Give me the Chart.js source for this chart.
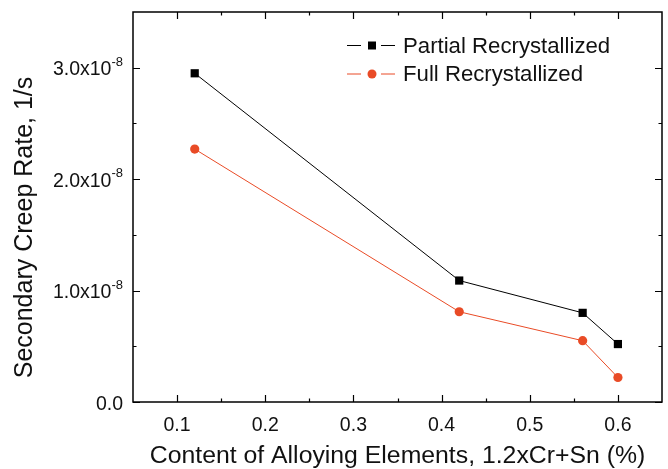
<!DOCTYPE html>
<html>
<head>
<meta charset="utf-8">
<script src="https://cdn.jsdelivr.net/npm/chart.js@4/dist/chart.umd.min.js"></script>
<style>
  html, body { margin: 0; padding: 0; background: #fff; }
  canvas { display: block; }
</style>
</head>
<body>
<canvas id="chart" width="668" height="469"></canvas>
<script>
const alloyContent = [0.12, 0.42, 0.56, 0.60]
const partialRate = [2.95e-8, 1.09e-8, 0.80e-8, 0.52e-8]
const fullRate = [2.27e-8, 0.81e-8, 0.55e-8, 0.22e-8]

const seriesNames = ['Partial Recrystallized', 'Full Recrystallized']
const seriesColors = ['#000000', '#E94B26']

const xTicks = [0.1, 0.2, 0.3, 0.4, 0.5, 0.6]
const xMinorTicks = [0.15, 0.25, 0.35, 0.45, 0.55]
const yTicks = [0, 1e-8, 2e-8, 3e-8]
const yMinorTicks = [0.5e-8, 1.5e-8, 2.5e-8]
const yTickBase = ['0.0', '1.0x10', '2.0x10', '3.0x10']
const yTickExp = ['', '-8', '-8', '-8']

const xTitle = 'Content of Alloying Elements, 1.2xCr+Sn (%)'
const yTitle = 'Secondary Creep Rate, 1/s'

const FONT = "'Liberation Sans', Arial, sans-serif"
const INK = '#111'

const toPoints = (ys) => alloyContent.map((x, i) => ({ x, y: ys[i] }))

// frame, inward ticks, y labels with superscript, y title, legend
const decorations = {
    id: 'decorations',
    afterDraw(chart) {
        const { ctx, chartArea: a, scales: { x, y } } = chart
        ctx.save()
        ctx.strokeStyle = '#000'
        ctx.lineWidth = 1.5
        ctx.strokeRect(a.left, a.top, a.right - a.left, a.bottom - a.top)

        ctx.lineWidth = 1.2
        ctx.beginPath()
        const xt = (v, len) => {
            const px = Math.round(x.getPixelForValue(v)) + 0.5
            ctx.moveTo(px, a.bottom); ctx.lineTo(px, a.bottom - len)
            ctx.moveTo(px, a.top); ctx.lineTo(px, a.top + len)
        }
        const yt = (v, len) => {
            const py = Math.round(y.getPixelForValue(v)) + 0.5
            ctx.moveTo(a.left, py); ctx.lineTo(a.left + len, py)
            ctx.moveTo(a.right, py); ctx.lineTo(a.right - len, py)
        }
        xTicks.forEach(v => xt(v, 7))
        xMinorTicks.forEach(v => xt(v, 3.5))
        yTicks.forEach(v => yt(v, 7))
        yMinorTicks.forEach(v => yt(v, 3.5))
        ctx.stroke()

        // y tick labels
        ctx.fillStyle = INK
        ctx.textBaseline = 'alphabetic'
        ctx.textAlign = 'right'
        yTicks.forEach((v, i) => {
            const py = y.getPixelForValue(v)
            const right = a.left - 10
            ctx.font = '13px ' + FONT
            const ew = yTickExp[i] ? ctx.measureText(yTickExp[i]).width : 0
            if (yTickExp[i]) ctx.fillText(yTickExp[i], right, py - 2)
            ctx.font = '19.5px ' + FONT
            ctx.fillText(yTickBase[i], right - ew, py + 7.5)
        })

        // y title (sits a little below the plot centre in the original)
        ctx.save()
        ctx.translate(25, 227.5)
        ctx.rotate(-Math.PI / 2)
        ctx.font = '25px ' + FONT
        ctx.textAlign = 'center'
        ctx.textBaseline = 'middle'
        ctx.fillText(yTitle, 0, 0)
        ctx.restore()

        // legend
        const rows = [45.5, 74]
        chart.data.datasets.forEach((ds, i) => {
            const ry = rows[i]
            ctx.strokeStyle = ds.borderColor
            ctx.lineWidth = 1
            ctx.beginPath()
            ctx.moveTo(347, ry); ctx.lineTo(361, ry)
            ctx.moveTo(381, ry); ctx.lineTo(395, ry)
            ctx.stroke()
            ctx.fillStyle = ds.pointBackgroundColor
            if (ds.pointStyle === 'rect') {
                ctx.fillRect(372 - 4, ry - 4, 8, 8)
            } else {
                ctx.beginPath()
                ctx.arc(372, ry, 4.5, 0, Math.PI * 2)
                ctx.fill()
            }
            ctx.fillStyle = INK
            ctx.font = '22.2px ' + FONT
            ctx.textAlign = 'left'
            ctx.textBaseline = 'middle'
            ctx.fillText(ds.label, 403, ry + 1)
        })
        ctx.restore()
    }
}

new Chart(document.getElementById('chart'), {
    type: 'line',
    data: {
        datasets: [
            {
                label: seriesNames[0],
                data: toPoints(partialRate),
                borderColor: seriesColors[0],
                backgroundColor: seriesColors[0],
                pointBackgroundColor: seriesColors[0],
                pointBorderWidth: 0,
                pointStyle: 'rect',
                pointRadius: 5.8,
                borderWidth: 1,
            },
            {
                label: seriesNames[1],
                data: toPoints(fullRate),
                borderColor: seriesColors[1],
                backgroundColor: seriesColors[1],
                pointBackgroundColor: seriesColors[1],
                pointBorderWidth: 0,
                pointStyle: 'circle',
                pointRadius: 4.6,
                borderWidth: 1,
            },
        ],
    },
    options: {
        responsive: false,
        animation: false,
        layout: { padding: { top: 12, right: 6, left: 0, bottom: 0 } },
        plugins: { legend: { display: false }, tooltip: { enabled: false } },
        scales: {
            x: {
                type: 'linear',
                min: 0.05,
                max: 0.65,
                afterBuildTicks: s => { s.ticks = xTicks.map(value => ({ value })) },
                afterFit: s => { s.height = 67 },
                grid: { display: false, drawTicks: false },
                border: { display: false },
                ticks: {
                    padding: 12,
                    color: INK,
                    font: { family: FONT, size: 19.5 },
                    callback: v => v.toFixed(1),
                },
                title: {
                    display: true,
                    text: xTitle,
                    color: INK,
                    font: { family: FONT, size: 24.8, lineHeight: 1 },
                    padding: { top: 0, bottom: 0 },
                },
            },
            y: {
                type: 'linear',
                min: 0,
                max: 3.5e-8,
                afterBuildTicks: s => { s.ticks = yTicks.map(value => ({ value })) },
                afterFit: s => { s.width = 133 },
                grid: { display: false, drawTicks: false },
                border: { display: false },
                ticks: { display: false },
                title: { display: false },
            },
        },
    },
    plugins: [decorations],
})
</script>
</body>
</html>
